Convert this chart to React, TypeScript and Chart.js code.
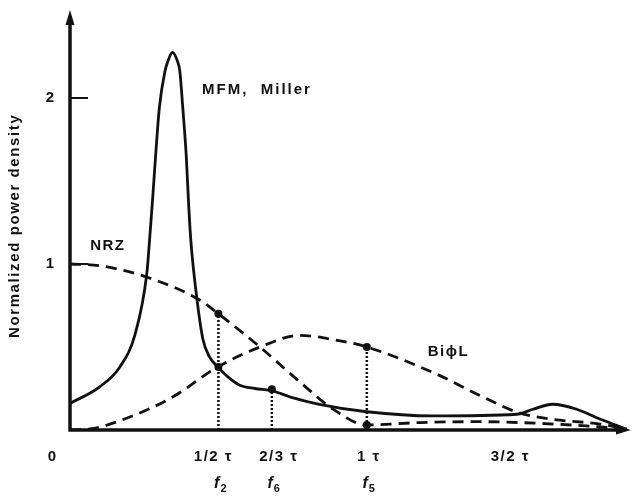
import React, { useEffect, useRef } from "react";
import { Chart, registerables } from "chart.js";

Chart.register(...registerables);

// x in units of tau, y = normalized power density
const mfmX = [0, 0.1, 0.168, 0.219, 0.259, 0.268, 0.278, 0.288, 0.301, 0.32, 0.33, 0.345, 0.362, 0.37, 0.38, 0.392, 0.399, 0.407, 0.428, 0.448, 0.47, 0.498, 0.532, 0.572, 0.623, 0.683, 0.74, 0.84, 1.0, 1.22, 1.505, 1.56, 1.626, 1.707, 1.785, 1.875];
const mfmY = [0.16, 0.26, 0.38, 0.575, 0.946, 1.144, 1.383, 1.641, 1.94, 2.162, 2.222, 2.275, 2.222, 2.162, 1.94, 1.641, 1.383, 1.144, 0.784, 0.545, 0.44, 0.38, 0.32, 0.27, 0.25, 0.235, 0.2, 0.155, 0.11, 0.085, 0.095, 0.125, 0.155, 0.125, 0.066, 0.006];

const nrzX = [0, 0.1, 0.26, 0.44, 0.5, 0.64, 0.774, 0.886, 1.0, 1.18, 1.38, 1.58, 1.785, 1.875];
const nrzY = [1.0, 0.99, 0.92, 0.78, 0.7, 0.5, 0.29, 0.126, 0.03, 0.045, 0.05, 0.04, 0.018, 0.0];

const biphX = [0, 0.067, 0.21, 0.347, 0.495, 0.64, 0.774, 0.886, 1.0, 1.222, 1.39, 1.505, 1.616, 1.785, 1.875];
const biphY = [0, 0.006, 0.084, 0.2, 0.377, 0.5, 0.57, 0.545, 0.5, 0.347, 0.2, 0.108, 0.066, 0.036, 0.006];

// marked frequencies (dotted drop lines) and their marker heights
const markerX = [0.5, 0.68, 1.0];
const markerTop = [0.7, 0.245, 0.5];
const markerPointsX = [0.5, 0.5, 0.68, 1.0, 1.0];
const markerPointsY = [0.7, 0.38, 0.245, 0.5, 0.03];

const xTickValues = [0.5, 2 / 3, 1, 1.5];
const xTickLabels = ["1/2 τ", "2/3 τ", "1 τ", "3/2 τ"];
const freqLabels = ["2", "6", "5"];
const yTickValues = [1, 2];
const yTickLabels = ["1", "2"];

const seriesLabels = ["MFM,  Miller", "NRZ", "BiϕL"];
const yTitle = "Normalized power density";

const pts = (xs: number[], ys: number[]) => xs.map((x, i) => ({ x, y: ys[i] }));

export default function App() {
  const ref = useRef<HTMLCanvasElement>(null);
  useEffect(() => {
    if (!ref.current) return;
    const ink = "#111";
    const fam = "'Liberation Sans', Arial, sans-serif";
    const overlay = {
      id: "overlay",
      afterDatasetsDraw(chart: any) {
        const ctx = chart.ctx;
        const xs = chart.scales.x;
        const ys = chart.scales.y;
        const x0 = xs.getPixelForValue(0);
        const y0 = ys.getPixelForValue(0);
        const xEnd = xs.right;
        const yTop = ys.top;
        ctx.save();
        ctx.strokeStyle = ink;
        ctx.fillStyle = ink;
        ctx.lineWidth = 3.5;
        ctx.lineCap = "butt";
        // axes
        ctx.beginPath();
        ctx.moveTo(x0, y0 + 1.5);
        ctx.lineTo(x0, yTop + 10);
        ctx.moveTo(x0 - 1.5, y0);
        ctx.lineTo(xEnd - 10, y0);
        ctx.stroke();
        // arrowheads
        ctx.beginPath();
        ctx.moveTo(x0, yTop);
        ctx.lineTo(x0 - 4.5, yTop + 15);
        ctx.lineTo(x0 + 4.5, yTop + 15);
        ctx.closePath();
        ctx.fill();
        ctx.beginPath();
        ctx.moveTo(xEnd, y0);
        ctx.lineTo(xEnd - 15, y0 - 4.5);
        ctx.lineTo(xEnd - 15, y0 + 4.5);
        ctx.closePath();
        ctx.fill();
        // y ticks
        ctx.lineWidth = 2;
        ctx.font = `bold 15px ${fam}`;
        ctx.textAlign = "center";
        ctx.textBaseline = "middle";
        yTickValues.forEach((v, i) => {
          const py = ys.getPixelForValue(v);
          ctx.beginPath();
          ctx.moveTo(x0, py);
          ctx.lineTo(x0 + 18, py);
          ctx.stroke();
          ctx.fillText(yTickLabels[i], x0 - 20, py);
        });
        // x labels
        ctx.fillText("0", x0 - 18, y0 + 27);
        (ctx as any).letterSpacing = "1.5px";
        const dx = [-5, 11, 2, -5];
        xTickValues.forEach((v, i) => {
          ctx.fillText(xTickLabels[i], xs.getPixelForValue(v) + dx[i], y0 + 27);
        });
        (ctx as any).letterSpacing = "0px";
        // frequency labels f2, f6, f5
        markerX.forEach((v, i) => {
          const px = xs.getPixelForValue(v);
          ctx.font = `italic bold 16px ${fam}`;
          ctx.textAlign = "right";
          ctx.fillText("f", px + 1, y0 + 54);
          ctx.font = `bold 11px ${fam}`;
          ctx.textAlign = "left";
          ctx.fillText(freqLabels[i], px + 2, y0 + 59);
        });
        // series labels
        ctx.font = `bold 15px ${fam}`;
        ctx.textAlign = "left";
        (ctx as any).letterSpacing = "2px";
        ctx.fillText(seriesLabels[0], xs.getPixelForValue(0.445), ys.getPixelForValue(2.05));
        (ctx as any).letterSpacing = "1.5px";
        ctx.fillText(seriesLabels[1], xs.getPixelForValue(0.068), ys.getPixelForValue(1.11));
        ctx.fillText(seriesLabels[2], xs.getPixelForValue(1.205), ys.getPixelForValue(0.47));
        // y title
        ctx.translate(15, ys.getPixelForValue(1.23));
        ctx.rotate(-Math.PI / 2);
        ctx.textAlign = "center";
        ctx.font = `bold 15px ${fam}`;
        (ctx as any).letterSpacing = "1.6px";
        ctx.fillText(yTitle, 0, 0);
        ctx.restore();
      },
    };

    const dropLines = markerX.map((x, i) => ({
      data: [
        { x, y: 0 },
        { x, y: markerTop[i] },
      ],
      borderColor: ink,
      borderWidth: 2.5,
      borderDash: [2, 2],
      pointRadius: 0,
      fill: false,
    }));

    const chart = new Chart(ref.current, {
      type: "line",
      data: {
        datasets: [
          {
            label: seriesLabels[0],
            data: pts(mfmX, mfmY),
            borderColor: ink,
            borderWidth: 2.8,
            pointRadius: 0,
            cubicInterpolationMode: "monotone",
            fill: false,
          },
          {
            label: seriesLabels[1],
            data: pts(nrzX, nrzY),
            borderColor: ink,
            borderWidth: 2.8,
            borderDash: [11, 7],
            pointRadius: 0,
            cubicInterpolationMode: "monotone",
            fill: false,
          },
          {
            label: seriesLabels[2],
            data: pts(biphX, biphY),
            borderColor: ink,
            borderWidth: 2.8,
            borderDash: [11, 7],
            pointRadius: 0,
            cubicInterpolationMode: "monotone",
            fill: false,
          },
          ...dropLines,
          {
            data: pts(markerPointsX, markerPointsY),
            showLine: false,
            pointRadius: 4,
            pointBackgroundColor: ink,
            pointBorderColor: ink,
            borderWidth: 0,
          },
        ] as any,
      },
      options: {
        animation: false,
        responsive: false,
        layout: { padding: { left: 70, right: 8, top: 10, bottom: 68 } },
        plugins: { legend: { display: false }, tooltip: { enabled: false } },
        scales: {
          x: { type: "linear", min: 0, max: 1.89, display: false },
          y: { type: "linear", min: 0, max: 2.53, display: false },
        },
      },
      plugins: [overlay],
    });
    return () => chart.destroy();
  }, []);
  return (
    <div style={{ position: "fixed", left: 0, top: 0, width: 639, height: 498, background: "#fff" }}>
      <canvas ref={ref} width={639} height={498} />
    </div>
  );
}
